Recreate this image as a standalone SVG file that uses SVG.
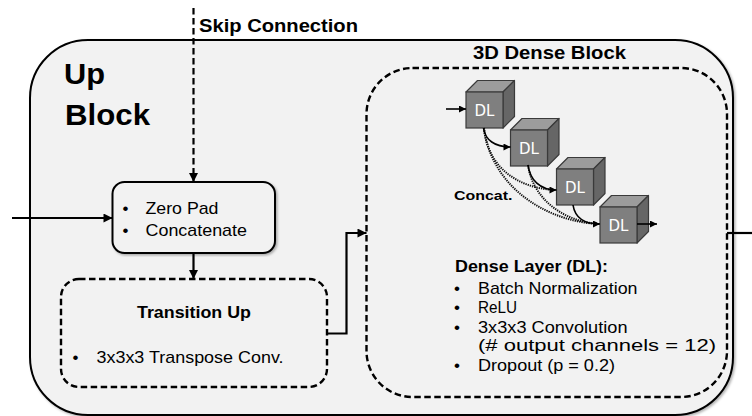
<svg xmlns="http://www.w3.org/2000/svg" xmlns:xlink="http://www.w3.org/1999/xlink" width="752" height="416" viewBox="0 0 752 416">
  <style>
    text { font-family: "Liberation Sans", Arial, sans-serif; fill: #000; }
    .bold { font-weight: bold; }
    .body { font-size: 17px; }
    .box { fill: #f2f2f2; stroke: #000; stroke-width: 2; }
    .dash { fill: #f2f2f2; stroke: #000; stroke-width: 2.4; stroke-dasharray: 6.5 3.5; }
    .wire { fill: none; stroke: #000; stroke-width: 2.2; }
    .thin { fill: none; stroke: #000; stroke-width: 1.6; }
    .dots { fill: none; stroke: #111; stroke-width: 2; stroke-dasharray: 1.3 1; }
    .dl { font-family: "DejaVu Sans", "Liberation Sans", sans-serif; font-size: 15px; fill: #fff; }
    .front { fill: #7f7f7f; stroke: #3a3a3a; stroke-width: 1.2; }
    .top { fill: #9c9c9c; stroke: #3a3a3a; stroke-width: 1.2; stroke-linejoin: round; }
    .side { fill: #666; stroke: #3a3a3a; stroke-width: 1.2; stroke-linejoin: round; }
  </style>
  <defs>
    <marker id="arrow" viewBox="0 0 10 10" refX="10" refY="5" markerWidth="10" markerHeight="9" markerUnits="userSpaceOnUse" orient="auto">
      <path d="M0,0 L10,5 L0,10 z" fill="#000"/>
    </marker>
    <marker id="arrowSm" viewBox="0 0 10 10" refX="10" refY="5" markerWidth="8" markerHeight="7" markerUnits="userSpaceOnUse" orient="auto">
      <path d="M0,0 L10,5 L0,10 z" fill="#000"/>
    </marker>
    <filter id="shadow" x="-5%" y="-5%" width="110%" height="110%">
      <feDropShadow dx="1.5" dy="1.5" stdDeviation="1.2" flood-color="#000" flood-opacity="0.3"/>
    </filter>
    <!-- one dense layer cube, front face at the origin -->
    <g id="cube">
      <polygon class="top" points="0,0 11.5,-11.5 48.5,-11.5 37,0"/>
      <polygon class="side" points="37,0 48.5,-11.5 48.5,24.5 37,36"/>
      <rect class="front" x="0" y="0" width="37" height="36"/>
    </g>
  </defs>

  <!-- outer up block -->
  <g id="up-block">
    <rect class="box" x="30" y="40" width="703" height="375" rx="58" ry="58" filter="url(#shadow)"/>
    <text class="bold" x="64" y="83.5" font-size="29" textLength="41" lengthAdjust="spacingAndGlyphs">Up</text>
    <text class="bold" x="65" y="124.5" font-size="29" textLength="85" lengthAdjust="spacingAndGlyphs">Block</text>
  </g>

  <g id="skip-label">
    <text class="bold" x="199" y="31.5" font-size="18.5" textLength="159" lengthAdjust="spacingAndGlyphs">Skip Connection</text>
  </g>

  <!-- zero pad + concatenate -->
  <g id="zero-pad">
    <rect class="box" x="112.5" y="182" width="162.5" height="71" rx="12" ry="12" filter="url(#shadow)"/>
    <text class="body" x="122.5" y="214">•</text>
    <text class="body" x="145.5" y="214" textLength="73" lengthAdjust="spacingAndGlyphs">Zero Pad</text>
    <text class="body" x="122.5" y="235.5">•</text>
    <text class="body" x="145.5" y="235.5" textLength="101.5" lengthAdjust="spacingAndGlyphs">Concatenate</text>
  </g>

  <!-- transition up -->
  <g id="transition-up">
    <rect class="dash" x="61" y="279" width="266" height="108" rx="18" ry="18"/>
    <text class="bold" x="137" y="317.5" font-size="16.5" textLength="114" lengthAdjust="spacingAndGlyphs">Transition Up</text>
    <text class="body" x="72.5" y="362.5">•</text>
    <text class="body" x="96.5" y="362.5" textLength="187" lengthAdjust="spacingAndGlyphs">3x3x3 Transpose Conv.</text>
  </g>

  <!-- 3D dense block -->
  <g id="dense-block">
    <rect class="dash" x="366.5" y="68" width="360.5" height="329" rx="46" ry="46"/>
    <text class="bold" x="473" y="58.5" font-size="18.5" textLength="153" lengthAdjust="spacingAndGlyphs">3D Dense Block</text>
  </g>

  <g id="dl-1" transform="translate(466,92)">
    <use xlink:href="#cube" href="#cube"/>
    <text class="dl" x="18.5" y="23.5" text-anchor="middle">DL</text>
  </g>
  <g id="dl-2" transform="translate(510.5,130)">
    <use xlink:href="#cube" href="#cube"/>
    <text class="dl" x="18.5" y="23.5" text-anchor="middle">DL</text>
  </g>
  <g id="dl-3" transform="translate(556.5,169)">
    <use xlink:href="#cube" href="#cube"/>
    <text class="dl" x="18.5" y="23.5" text-anchor="middle">DL</text>
  </g>
  <g id="dl-4" transform="translate(600,207)">
    <use xlink:href="#cube" href="#cube"/>
    <text class="dl" x="18.5" y="23.5" text-anchor="middle">DL</text>
  </g>

  <g id="concat-label">
    <text class="bold" x="454" y="199.5" font-size="13.5" textLength="58.5" lengthAdjust="spacingAndGlyphs">Concat.</text>
  </g>

  <!-- dense layer description -->
  <g id="dense-layer-info">
    <text class="bold" x="455" y="271.5" font-size="16.5" textLength="153" lengthAdjust="spacingAndGlyphs">Dense Layer (DL):</text>
    <text class="body" x="454" y="293.5">•</text>
    <text class="body" x="478" y="293.5" textLength="159.5" lengthAdjust="spacingAndGlyphs">Batch Normalization</text>
    <text class="body" x="454" y="313">•</text>
    <text class="body" x="478" y="313" textLength="39" lengthAdjust="spacingAndGlyphs">ReLU</text>
    <text class="body" x="454" y="332.5">•</text>
    <text class="body" x="478" y="332.5" textLength="149.5" lengthAdjust="spacingAndGlyphs">3x3x3 Convolution</text>
    <text class="body" x="478" y="351" font-size="18" textLength="238" lengthAdjust="spacingAndGlyphs">(# output channels = 12)</text>
    <text class="body" x="454" y="370.5">•</text>
    <text class="body" x="478" y="370.5" textLength="137" lengthAdjust="spacingAndGlyphs">Dropout (p = 0.2)</text>
  </g>

  <!-- connectors -->
  <g id="connectors">
    <path class="wire" d="M193.5,8 L193.5,182" stroke-dasharray="6.5 3.5" marker-end="url(#arrow)"/>
    <path class="wire" d="M12,218 L112.5,218" marker-end="url(#arrow)"/>
    <path class="wire" d="M193.5,253 L193.5,279" marker-end="url(#arrow)"/>
    <path class="wire" d="M327,333.5 L346.5,333.5 L346.5,233 L366.5,233" marker-end="url(#arrow)"/>
    <path class="wire" d="M727,233 L752,233"/>

    <path class="dots" d="M484,128 C487,165 515,188 555,190"/>
    <path class="dots" d="M484,128 C492,190 550,222 599,224"/>
    <path class="dots" d="M528,165 C533,200 565,222 599,224"/>

    <path class="thin" d="M446,109 L466,109" marker-end="url(#arrowSm)"/>
    <path class="thin" d="M483.5,128 C485,140 495,147 510.5,147" marker-end="url(#arrowSm)"/>
    <path class="thin" d="M528,165 C530,180 540,190 556.5,190" marker-end="url(#arrowSm)"/>
    <path class="thin" d="M573,205 C575,218 585,224 600,224" marker-end="url(#arrowSm)"/>
    <path class="thin" d="M637,224 L657,224" marker-end="url(#arrowSm)"/>
  </g>
</svg>
